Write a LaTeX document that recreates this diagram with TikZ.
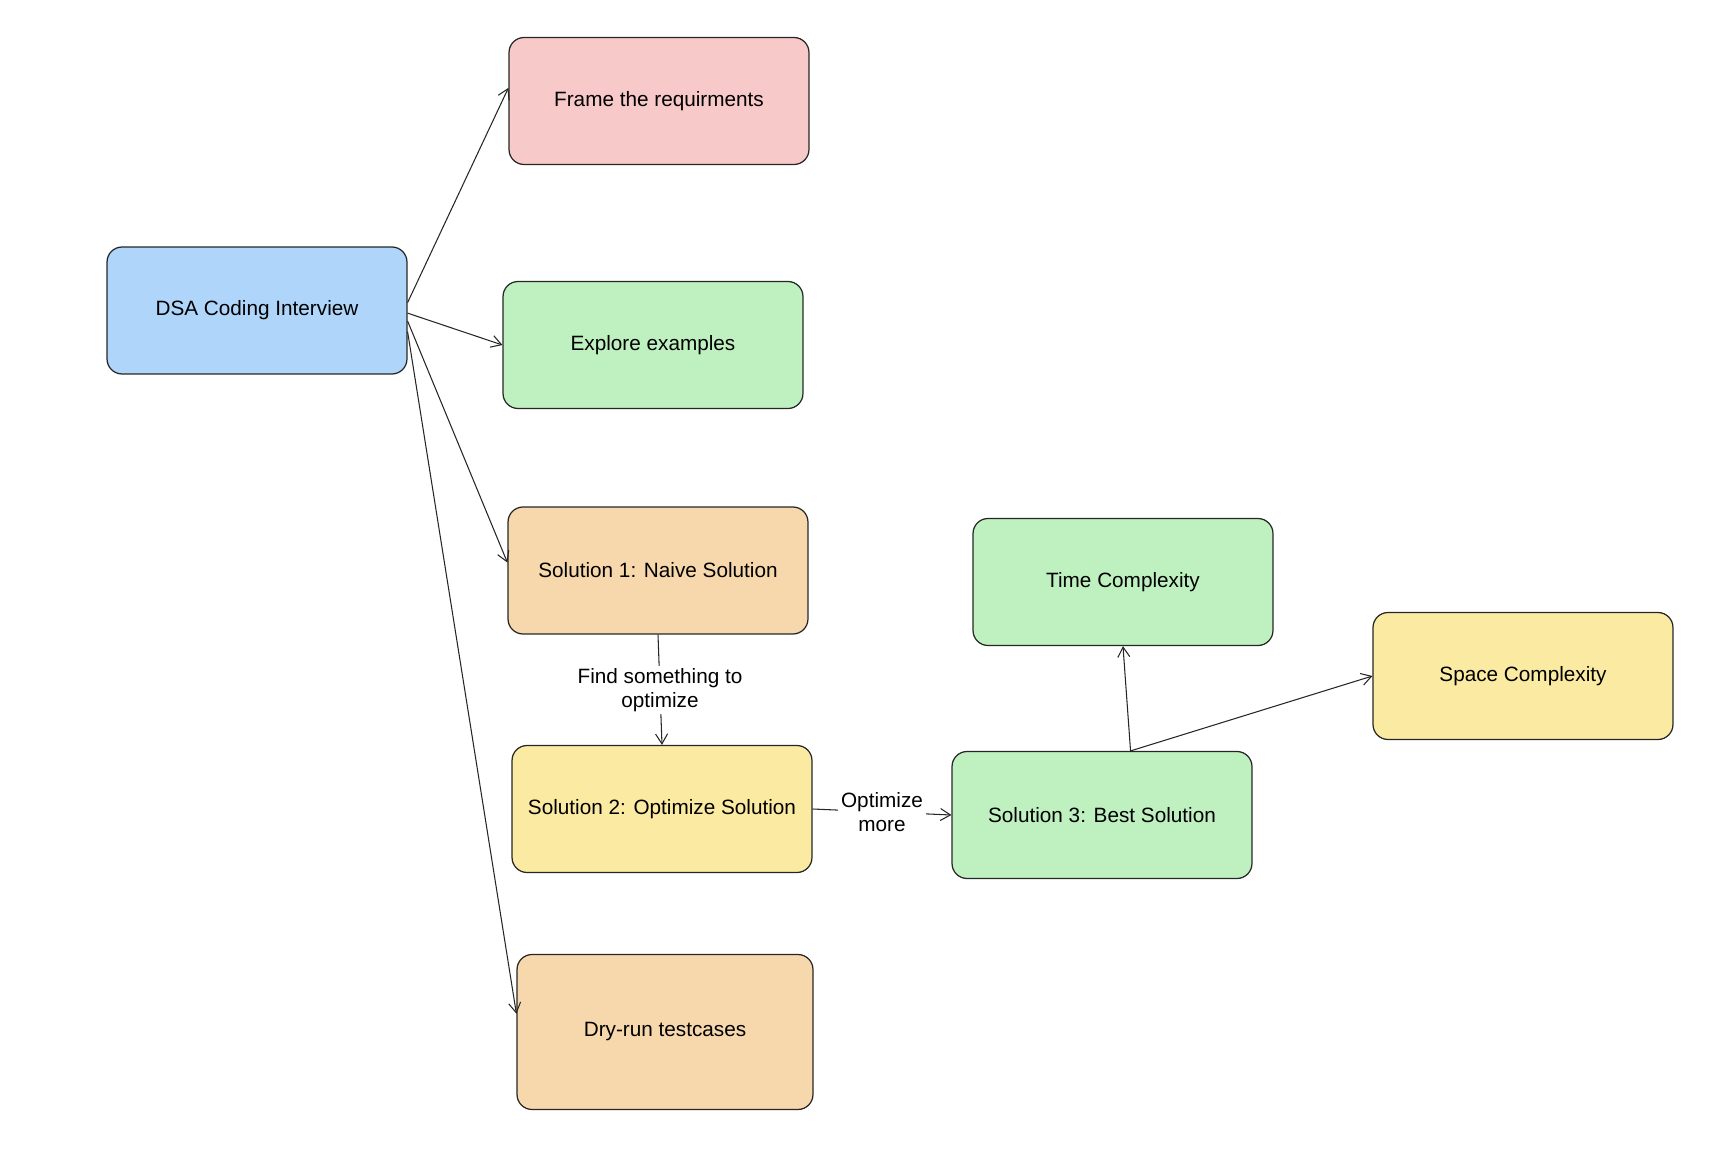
\documentclass[tikz,border=0pt]{standalone}
\usepackage{fontspec}
\setmainfont{Liberation Sans}
\usepackage{xcolor}
\usepackage{tikz}
\usetikzlibrary{arrows.meta}

\definecolor{boxblue}{HTML}{AFD6FA}
\definecolor{boxpink}{HTML}{F7C9C9}
\definecolor{boxgreen}{HTML}{BFF0C0}
\definecolor{boxorange}{HTML}{F7D8AC}
\definecolor{boxyellow}{HTML}{FBEAA1}

\tikzset{
	box/.style={draw=black!85, line width=0.7pt, rounded corners=0.3cm,
		minimum width=6cm, minimum height=2.54cm, align=center,
		font=\fontsize{11.8}{13.6}\selectfont},
	arr/.style={draw=black!85, line width=0.6pt,
		-{Straight Barb[length=2mm,width=2.4mm]}},
	lbl/.style={fill=white, inner sep=1.5pt, align=center,
		font=\fontsize{11.8}{13.6}\selectfont}
}

\begin{document}
\begin{tikzpicture}[x=0.02cm,y=-0.02cm]
	\useasboundingbox (0,0) rectangle (1712,1152);
	\node[box,fill=boxblue] (dsa) at (257,310.5) {DSA Coding Interview};
	\node[box,fill=boxpink] (frame) at (659,101) {Frame the requirments};
	\node[box,fill=boxgreen] (explore) at (653,345) {Explore examples};
	\node[box,fill=boxorange] (sol1) at (658,570.5) {Solution 1: Naive Solution};
	\node[box,fill=boxyellow] (sol2) at (662,809) {Solution 2: Optimize Solution};
	\node[box,fill=boxgreen] (sol3) at (1102,815) {Solution 3: Best Solution};
	\node[box,fill=boxgreen] (time) at (1123,582) {Time Complexity};
	\node[box,fill=boxyellow] (space) at (1523,676) {Space Complexity};
	\node[box,fill=boxorange,minimum width=5.92cm,minimum height=3.1cm] (dry) at (665,1032) {Dry-run testcases};

	\draw[arr] (dsa.3) -- (frame.175);
	\draw[arr] (dsa.-1) -- (explore.west);
	\draw[arr] (dsa.-4) -- (sol1.177);
	\draw[arr] (dsa.-8) -- (dry.173);
	\draw[arr] (sol1.south) -- node[lbl] {Find something to\\optimize} (sol2.north);
	\draw[arr] (sol2.east) -- node[lbl] {Optimize\\more} (sol3.west);
	\draw[arr] (sol3.66) -- (time.south);
	\draw[arr] (sol3.66) -- (space.west);
\end{tikzpicture}
\end{document}
